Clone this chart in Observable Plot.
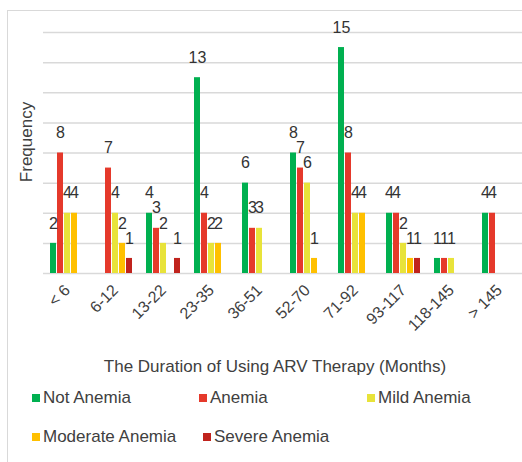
<!DOCTYPE html>
<html>
<head>
<meta charset="utf-8">
<script src="https://cdn.jsdelivr.net/npm/d3@7"></script>
<script src="https://cdn.jsdelivr.net/npm/@observablehq/plot@0.6"></script>
<style>
  html, body { margin: 0; padding: 0; background: #fff; overflow: hidden; }
  body { width: 522px; height: 462px; position: relative; font-family: "Liberation Sans", Arial, sans-serif; color: #404040; }
  #frame { position: absolute; left: 7px; top: 10px; width: 540px; height: 480px; border: 1px solid #d9d9d9; box-sizing: border-box; }
  #chart { position: absolute; left: 0; top: 0; }
  .abs { position: absolute; white-space: nowrap; }
  #ylab { left: 27px; top: 142px; transform: translate(-50%, -50%) rotate(-90deg); font-size: 17px; }
  #xlab { left: 275px; top: 367px; transform: translate(-50%, -50%); font-size: 17px; }
  .leg { position: absolute; font-size: 17px; display: flex; align-items: center; white-space: nowrap; transform: translateY(-50%); }
  .sw { width: 8px; height: 8px; margin-right: 3px; display: inline-block; }
</style>
</head>
<body>
<div id="frame"></div>
<div id="chart"></div>
<div id="ylab" class="abs">Frequency</div>
<div id="xlab" class="abs">The Duration of Using ARV Therapy (Months)</div>
<div id="legend"></div>
<script>
const categories = ["< 6", "6-12", "13-22", "23-35", "36-51", "52-70", "71-92", "93-117", "118-145", "> 145"];
const seriesNames = ["Not Anemia", "Anemia", "Mild Anemia", "Moderate Anemia", "Severe Anemia"];
const seriesColors = ["#00b050", "#e5392b", "#e8e33a", "#ffc000", "#c0231d"];
const notAnemia      = [2, 0, 4, 13, 6, 8, 15, 4, 1, 4];
const anemia         = [8, 7, 3, 4, 3, 7, 8, 4, 1, 4];
const mildAnemia     = [4, 4, 2, 2, 3, 6, 4, 2, 1, 0];
const moderateAnemia = [4, 2, 0, 2, 0, 1, 4, 1, 0, 0];
const severeAnemia   = [0, 1, 1, 0, 0, 0, 0, 1, 0, 0];
const yTicks = [0, 2, 4, 6, 8, 10, 12, 14, 16];

const seriesValues = [notAnemia, anemia, mildAnemia, moderateAnemia, severeAnemia];
const data = [];
categories.forEach((c, i) => {
  seriesNames.forEach((s, j) => {
    data.push({cat: c, series: s, value: seriesValues[j][i]});
  });
});
const shown = data.filter(d => d.value > 0);

const chart = Plot.plot({
  width: 522,
  height: 340,
  marginTop: 32,
  marginBottom: 67,
  marginLeft: 41,
  marginRight: 0,
  style: {fontFamily: "Liberation Sans, Arial, sans-serif", fontSize: "16px", color: "#404040", background: "transparent"},
  fx: {domain: categories, range: [41, 524], padding: 0, axis: "bottom", label: null, tickRotate: -45, tickSize: 0, tickPadding: 14},
  x: {domain: seriesNames, paddingInner: 0.18, paddingOuter: 0.9, axis: null},
  y: {domain: [0, 16], axis: null},
  color: {domain: seriesNames, range: seriesColors},
  marks: [
    Plot.ruleY(yTicks, {stroke: "#d9d9d9", strokeWidth: 1.5}),
    Plot.barY(shown, {fx: "cat", x: "series", y: "value", fill: "series"}),
    Plot.text(shown, {fx: "cat", x: "series", y: "value", text: d => String(d.value), dy: -20, fontSize: 16, fill: "#333"})
  ]
});
document.getElementById("chart").appendChild(chart);

const legendPos = [[32, 398], [199, 398], [367, 398], [32, 437], [203, 437]];
const legend = document.getElementById("legend");
seriesNames.forEach((s, i) => {
  const el = document.createElement("div");
  el.className = "leg";
  el.style.left = legendPos[i][0] + "px";
  el.style.top = legendPos[i][1] + "px";
  el.innerHTML = `<span class="sw" style="background:${seriesColors[i]}"></span>${s}`;
  legend.appendChild(el);
});
</script>
</body>
</html>
